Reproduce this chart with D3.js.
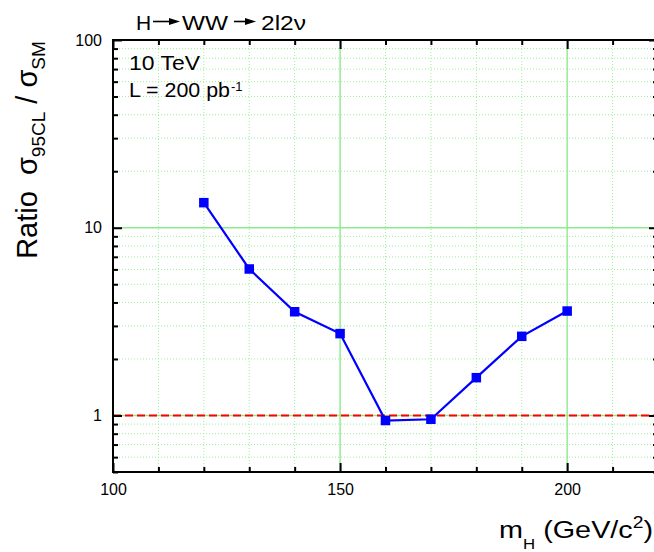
<!DOCTYPE html>
<html>
<head>
<meta charset="utf-8">
<script src="https://cdn.jsdelivr.net/npm/d3@7"></script>
<style>
  html, body { margin: 0; padding: 0; background: #fff; }
  svg { display: block; font-family: "Liberation Sans", Arial, sans-serif; }
</style>
</head>
<body>
<div id="chart"></div>
<script>
// Higgs mass points and 95% CL / SM ratio
var masses = [120, 130, 140, 150, 160, 170, 180, 190, 200];
var ratios = [13.6, 6.03, 3.57, 2.73, 0.94, 0.955, 1.59, 2.64, 3.6];

var xMajor = [100, 150, 200];
var xMinor = [110, 120, 130, 140, 160, 170, 180, 190, 210];
var yMajor = [1, 10, 100];
var yMinor = [0.5, 0.6, 0.7, 0.8, 0.9, 2, 3, 4, 5, 6, 7, 8, 9, 20, 30, 40, 50, 60, 70, 80, 90];
var refLevel = [1];

var width = 654, height = 552;
var pLeft = 113, pRight = 658, pTop = 40, pBottom = 472;

var svg = d3.select("#chart").append("svg")
  .attr("width", width)
  .attr("height", height);

var x = d3.scaleLinear().domain([100, 220]).range([pLeft, pRight]);
var y = d3.scaleLog().domain([0.5, 100]).range([pBottom, pTop]);

// grid
var grid = svg.append("g");
grid.selectAll(".vminor").data(xMinor).enter().append("line")
  .attr("x1", function(d) { return x(d); }).attr("x2", function(d) { return x(d); })
  .attr("y1", pTop).attr("y2", pBottom)
  .attr("stroke", "#9eee9e").attr("stroke-width", 1).attr("stroke-dasharray", "1,2");
grid.selectAll(".hminor").data(yMinor).enter().append("line")
  .attr("x1", pLeft).attr("x2", pRight)
  .attr("y1", function(d) { return y(d); }).attr("y2", function(d) { return y(d); })
  .attr("stroke", "#9eee9e").attr("stroke-width", 1).attr("stroke-dasharray", "1,2");
grid.selectAll(".vmajor").data(xMajor.slice(1)).enter().append("line")
  .attr("x1", function(d) { return x(d); }).attr("x2", function(d) { return x(d); })
  .attr("y1", pTop).attr("y2", pBottom)
  .attr("stroke", "#8eea8e").attr("stroke-width", 1.4);
grid.selectAll(".hmajor").data(yMajor.slice(0, 2)).enter().append("line")
  .attr("x1", pLeft).attr("x2", pRight)
  .attr("y1", function(d) { return y(d); }).attr("y2", function(d) { return y(d); })
  .attr("stroke", "#8eea8e").attr("stroke-width", 1.4);

// reference line at ratio = 1
svg.selectAll(".ref").data(refLevel).enter().append("line")
  .attr("x1", pLeft).attr("x2", pRight)
  .attr("y1", function(d) { return y(d); }).attr("y2", function(d) { return y(d); })
  .attr("stroke", "#ff0000").attr("stroke-width", 2).attr("stroke-dasharray", "8,4");

// data
var pts = masses.map(function(m, i) { return [m, ratios[i]]; });
svg.append("path")
  .datum(pts)
  .attr("fill", "none")
  .attr("stroke", "#0000ff")
  .attr("stroke-width", 2.2)
  .attr("d", d3.line().x(function(d) { return x(d[0]); }).y(function(d) { return y(d[1]); }));

var sz = 9.5;
svg.selectAll(".pt").data(pts).enter().append("rect")
  .attr("x", function(d) { return x(d[0]) - sz / 2; })
  .attr("y", function(d) { return y(d[1]) - sz / 2; })
  .attr("width", sz).attr("height", sz)
  .attr("fill", "#0000ff");

// axes (ticks point inward)
function styleAxis(g) {
  g.select(".domain").remove();
  g.attr("font-size", 16).attr("font-family", "'Liberation Sans', Arial, sans-serif");
  g.selectAll(".tick line").attr("stroke", "#000").attr("stroke-width", 2);
  g.selectAll(".tick text").attr("fill", "#000");
}

svg.append("g").attr("transform", "translate(0," + pBottom + ")")
  .call(d3.axisBottom(x).tickValues(xMinor).tickSize(-5).tickFormat(""))
  .call(styleAxis);
svg.append("g").attr("transform", "translate(0," + pBottom + ")")
  .call(d3.axisBottom(x).tickValues(xMajor).tickSize(-9).tickPadding(12).tickFormat(d3.format("d")))
  .call(styleAxis);
svg.append("g").attr("transform", "translate(0," + pTop + ")")
  .call(d3.axisTop(x).tickValues(xMinor).tickSize(-5).tickFormat(""))
  .call(styleAxis);
svg.append("g").attr("transform", "translate(0," + pTop + ")")
  .call(d3.axisTop(x).tickValues(xMajor).tickSize(-9).tickFormat(""))
  .call(styleAxis);

svg.append("g").attr("transform", "translate(" + pLeft + ",0)")
  .call(d3.axisLeft(y).tickValues(yMinor).tickSize(-5).tickFormat(""))
  .call(styleAxis);
svg.append("g").attr("transform", "translate(" + pLeft + ",0)")
  .call(d3.axisLeft(y).tickValues(yMajor).tickSize(-9).tickPadding(11).tickFormat(d3.format("d")))
  .call(styleAxis);
svg.append("g").attr("transform", "translate(" + pRight + ",0)")
  .call(d3.axisRight(y).tickValues(yMinor).tickSize(-5).tickFormat(""))
  .call(styleAxis);
svg.append("g").attr("transform", "translate(" + pRight + ",0)")
  .call(d3.axisRight(y).tickValues(yMajor).tickSize(-9).tickFormat(""))
  .call(styleAxis);

// frame
svg.append("rect")
  .attr("x", pLeft).attr("y", pTop)
  .attr("width", pRight - pLeft).attr("height", pBottom - pTop)
  .attr("fill", "none").attr("stroke", "#000").attr("stroke-width", 2);

// title: H -> WW -> 2l2nu
var title = svg.append("g").attr("font-size", 21).attr("fill", "#000");
title.append("text").attr("x", 136).attr("y", 30).text("H");
title.append("text").attr("x", 182).attr("y", 30)
  .attr("textLength", 46).attr("lengthAdjust", "spacingAndGlyphs").text("WW");
title.append("text").attr("x", 261).attr("y", 30)
  .attr("textLength", 45).attr("lengthAdjust", "spacingAndGlyphs").text("2l2\u03bd");
function arrow(x0, x1, yy) {
  title.append("line").attr("x1", x0).attr("x2", x1 - 8).attr("y1", yy).attr("y2", yy)
    .attr("stroke", "#000").attr("stroke-width", 1.6);
  title.append("path")
    .attr("d", "M" + (x1 - 11) + "," + (yy - 3.5) + "L" + x1 + "," + yy + "L" + (x1 - 11) + "," + (yy + 3.5) + "Z")
    .attr("fill", "#000");
}
arrow(153, 180, 21.5);
arrow(234, 256, 21.5);

// legend text
var leg = svg.append("g").attr("font-size", 20).attr("fill", "#000");
leg.append("text").attr("x", 129).attr("y", 70)
  .attr("textLength", 71).attr("lengthAdjust", "spacingAndGlyphs").text("10 TeV");
leg.append("text").attr("x", 129).attr("y", 97)
  .attr("textLength", 101).attr("lengthAdjust", "spacingAndGlyphs").text("L = 200 pb");
leg.append("text").attr("x", 231).attr("y", 91).attr("font-size", 13).text("-1");

// y label
var yl = svg.append("text")
  .attr("transform", "translate(37,150) rotate(-90)")
  .attr("text-anchor", "middle")
  .attr("font-size", 29)
  .attr("fill", "#000")
  .style("white-space", "pre");
yl.append("tspan").text("Ratio  \u03c3");
yl.append("tspan").attr("dy", 8).attr("font-size", 19).text("95CL");
yl.append("tspan").attr("dy", -8).text(" / \u03c3");
yl.append("tspan").attr("dy", 8).attr("font-size", 19).text("SM");

// x label
var xl = svg.append("g")
  .attr("transform", "translate(653,538) scale(1.2,1)")
  .append("text")
  .attr("text-anchor", "end")
  .attr("font-size", 24)
  .attr("fill", "#000");
xl.append("tspan").text("m");
xl.append("tspan").attr("dy", 11).attr("font-size", 14).text("H");
xl.append("tspan").attr("dy", -11).text(" (GeV/c");
xl.append("tspan").attr("dy", -10).attr("font-size", 16).text("2");
xl.append("tspan").attr("dy", 10).text(")");
</script>
</body>
</html>
